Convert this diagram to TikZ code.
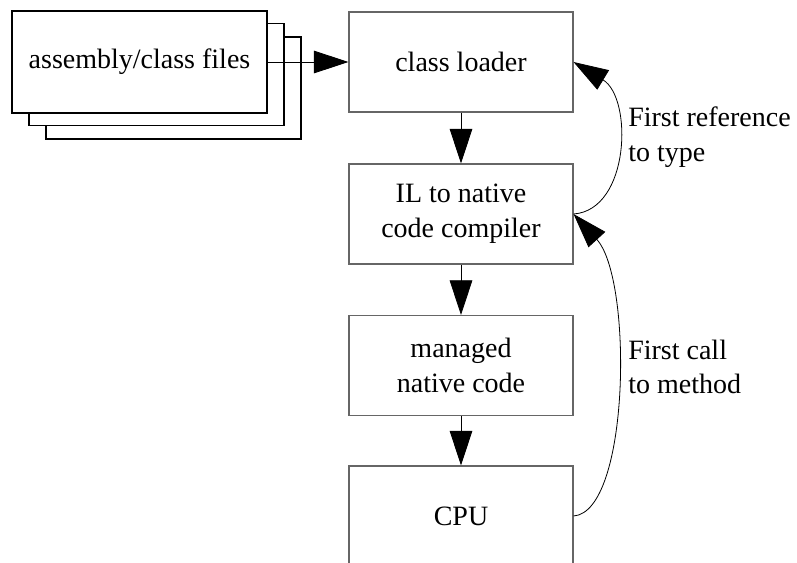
\documentclass[tikz,border=0pt]{standalone}
\usepackage{fontspec}
\setmainfont{Liberation Serif}
\usetikzlibrary{arrows.meta,positioning}

\begin{document}
\begin{tikzpicture}[x=0.75pt,y=-0.75pt,font=\fontsize{21}{26}\selectfont]
	\tikzstyle{etape}=[rectangle,draw=black!60,line width=0.8pt,minimum 
	width=168pt,minimum height=75pt,align=center,inner sep=0pt]
	\tikzstyle{fichier}=[rectangle,draw=black,line width=1.3pt,fill=white,
	minimum width=191pt,minimum height=76.5pt]
	\tikzstyle{remarque}=[anchor=west,align=left,inner sep=0pt]

	\useasboundingbox (0,0) rectangle (797,562);
	\clip (0,0) rectangle (797,562);

	\node[fichier] (f3) at (173.5,88) {};
	\node[fichier] (f2) at (156.5,74.5) {};
	\node[fichier] (f1) at (139.5,62) {assembly/class files};

	\node[etape] (a1) at (461,62) {class loader};
	\node[etape] (a2) at (461,214) {IL to native\\code compiler};
	\node[etape] (a3) at (461,365.5) {managed\\native code};
	\node[etape] (a4) at (461,516) {CPU};

	\node[remarque] (l1) at (628,137) {First reference\\to type};
	\node[remarque] (l2) at (628,367) {First call\\to method};

	\tikzstyle{suite}=[-{Triangle[length=26pt,width=17pt]},line width=0.6pt]

	\draw[suite] (f1) -- (a1);
	\draw[suite] (a1) -- (a2);
	\draw[suite] (a2) -- (a3);
	\draw[suite] (a3) -- (a4);
	\draw[suite] (a2.east) .. controls (630,210) and (633,98) .. (a1.east);
	\draw[suite] (a4.east) .. controls (630,512) and (633,279) .. (a2.east);
\end{tikzpicture}
\end{document}
